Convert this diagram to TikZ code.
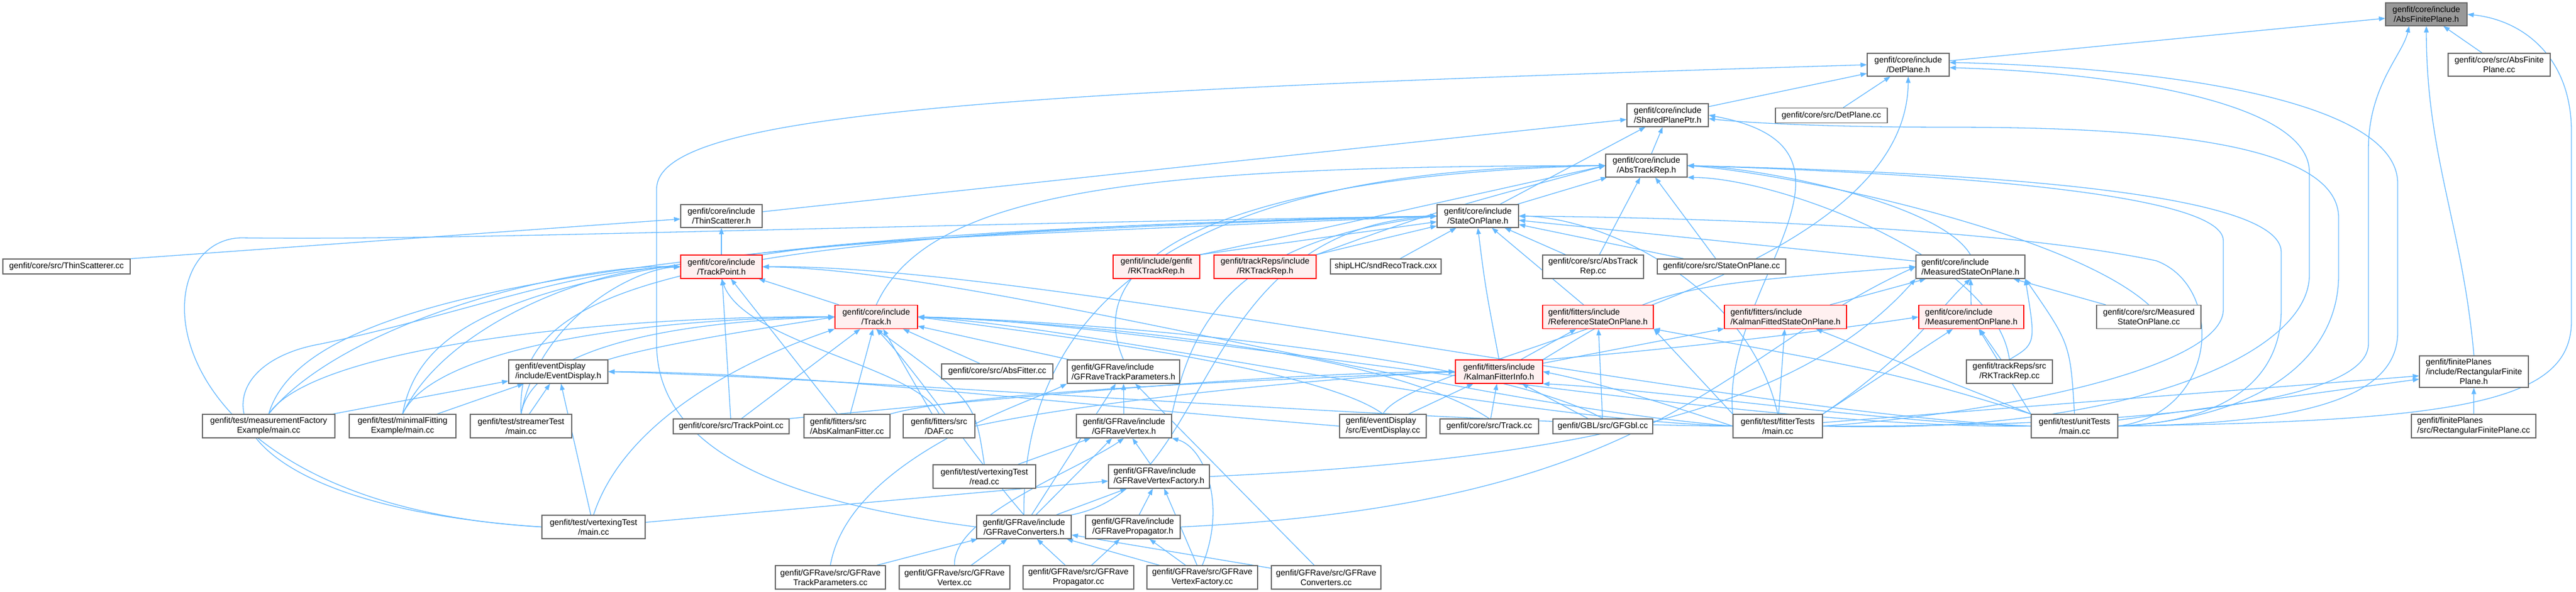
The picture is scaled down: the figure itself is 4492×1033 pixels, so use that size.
\documentclass[tikz,border=0pt]{standalone}
\usepackage{fontspec}
\setmainfont{Liberation Sans}
\usetikzlibrary{arrows.meta,backgrounds}

\definecolor{edgeblue}{HTML}{63B8FF}
\definecolor{boxgray}{HTML}{666666}
\definecolor{rootgray}{HTML}{999999}
\definecolor{truncfill}{HTML}{FFF0F0}

\tikzset{
  file/.style={draw=boxgray, fill=white, line width=1.2pt, inner sep=0pt,
    align=center, minimum height=41pt, font=\fontsize{14.5}{17}\selectfont},
  trunc/.style={file, draw=red, fill=truncfill},
  root/.style={file, fill=rootgray},
  dep/.style={draw=edgeblue, line width=1.3pt, -{Triangle[length=11pt,width=8pt]}}
}

\begin{document}
\begin{tikzpicture}[x=1pt,y=-1pt]
  \useasboundingbox (0,0) rectangle (4492,1033);

  \node[root, minimum width=142pt, minimum height=40pt] (absfp) at (4231,25) {genfit/core/include\\/AbsFinitePlane.h};
  \node[file, minimum width=143pt, minimum height=40pt] (detplane) at (3327.5,113) {genfit/core/include\\/DetPlane.h};
  \node[file, minimum width=178pt, minimum height=40pt] (absfpcc) at (4358,113) {genfit/core/src/AbsFinite\\Plane.cc};
  \node[file, minimum width=142pt, minimum height=40pt] (sharedpp) at (2908,201) {genfit/core/include\\/SharedPlanePtr.h};
  \node[file, minimum width=195pt, minimum height=26pt] (detplanecc) at (3193.5,201.5) {genfit/core/src/DetPlane.cc};
  \node[file, minimum width=142pt, minimum height=40pt] (abstrackrep) at (2871,289) {genfit/core/include\\/AbsTrackRep.h};
  \node[file, minimum width=142pt, minimum height=40pt] (thinsch) at (1258,377) {genfit/core/include\\/ThinScatterer.h};
  \node[file, minimum width=142pt, minimum height=40pt] (sop) at (2577,377) {genfit/core/include\\/StateOnPlane.h};

  \node[file, minimum width=222pt, minimum height=26pt] (thinscc) at (116,465) {genfit/core/src/ThinScatterer.cc};
  \node[trunc, minimum width=142pt] (trackpoint) at (1258,465.5) {genfit/core/include\\/TrackPoint.h};
  \node[trunc, minimum width=151pt] (rkgenfit) at (2016.5,465.5) {genfit/include/genfit\\/RKTrackRep.h};
  \node[trunc, minimum width=178pt] (rktrackreps) at (2206,465.5) {genfit/trackReps/include\\/RKTrackRep.h};
  \node[file, minimum width=193pt, minimum height=26pt] (sndreco) at (2416.5,465) {shipLHC/sndRecoTrack.cxx};
  \node[file, minimum width=176pt] (abstrackrepcc) at (2778,465.5) {genfit/core/src/AbsTrack\\Rep.cc};
  \node[file, minimum width=224pt, minimum height=26pt] (sopcc) at (3002,465) {genfit/core/src/StateOnPlane.cc};
  \node[file, minimum width=190pt, align=left] (msop) at (3436,465.5) {genfit/core/include\\/MeasuredStateOnPlane.h};

  \node[trunc, minimum width=144pt] (track) at (1528,553) {genfit/core/include\\/Track.h};
  \node[trunc, minimum width=193pt, align=left] (refsop) at (2786.5,553) {genfit/fitters/include\\/ReferenceStateOnPlane.h};
  \node[trunc, minimum width=213pt, align=left] (kfsop) at (3113.5,553) {genfit/fitters/include\\/KalmanFittedStateOnPlane.h};
  \node[trunc, minimum width=183pt, align=left] (mop) at (3437.5,553) {genfit/core/include\\/MeasurementOnPlane.h};
  \node[file, minimum width=182pt] (msopcc) at (3747,553) {genfit/core/src/Measured\\StateOnPlane.cc};

  \node[file, minimum width=173pt, align=left] (eventdisplayh) at (973.5,648.5) {genfit/eventDisplay\\/include/EventDisplay.h};
  \node[file, minimum width=194pt, minimum height=26pt] (absfittercc) at (1739,648) {genfit/core/src/AbsFitter.cc};
  \node[file, minimum width=196pt, align=left] (gfravetph) at (1959,648.5) {genfit/GFRave/include\\/GFRaveTrackParameters.h};
  \node[trunc, minimum width=152pt] (kfinfo) at (2614,648.5) {genfit/fitters/include\\/KalmanFitterInfo.h};
  \node[file, minimum width=150pt] (rkcc) at (3504,648.5) {genfit/trackReps/src\\/RKTrackRep.cc};
  \node[file, minimum width=190pt, minimum height=55pt, align=left] (rectfph) at (4314,648.5) {genfit/finitePlanes\\/include/RectangularFinite\\\hspace*{59pt}Plane.h};

  \node[file, minimum width=231pt] (mfexample) at (468.5,743.5) {genfit/test/measurementFactory\\Example/main.cc};
  \node[file, minimum width=186pt] (minfit) at (702,743.5) {genfit/test/minimalFitting\\Example/main.cc};
  \node[file, minimum width=177pt] (streamer) at (908.5,743.5) {genfit/test/streamerTest\\/main.cc};
  \node[file, minimum width=202pt, minimum height=26pt] (trackpointcc) at (1275,744) {genfit/core/src/TrackPoint.cc};
  \node[file, minimum width=150pt, align=left] (abskfcc) at (1477,743.5) {genfit/fitters/src\\/AbsKalmanFitter.cc};
  \node[file, minimum width=125pt] (dafcc) at (1637.5,743.5) {genfit/fitters/src\\/DAF.cc};
  \node[file, minimum width=166pt] (gfravevertexh) at (1960,743.5) {genfit/GFRave/include\\/GFRaveVertex.h};
  \node[file, minimum width=151pt, align=left] (eventdisplaycc) at (2411.5,743.5) {genfit/eventDisplay\\/src/EventDisplay.cc};
  \node[file, minimum width=172pt, minimum height=26pt] (trackcc) at (2597,744) {genfit/core/src/Track.cc};
  \node[file, minimum width=174pt, minimum height=26pt] (gfgblcc) at (2795,744) {genfit/GBL/src/GFGbl.cc};
  \node[file, minimum width=156pt] (fittertests) at (3100,743.5) {genfit/test/fitterTests\\/main.cc};
  \node[file, minimum width=151pt] (unittests) at (3617.5,743.5) {genfit/test/unitTests\\/main.cc};
  \node[file, minimum width=217pt, align=left] (rectfpcc) at (4313.5,743.5) {genfit/finitePlanes\\/src/RectangularFinitePlane.cc};

  \node[file, minimum width=179pt] (readcc) at (1716.5,831.5) {genfit/test/vertexingTest\\/read.cc};
  \node[file, minimum width=176pt, align=left] (gfravevfh) at (2021,831.5) {genfit/GFRave/include\\/GFRaveVertexFactory.h};
  \node[file, minimum width=180pt] (vtxmain) at (1035,919.5) {genfit/test/vertexingTest\\/main.cc};
  \node[file, minimum width=165pt] (gfraveconvh) at (1785.5,919.5) {genfit/GFRave/include\\/GFRaveConverters.h};
  \node[file, minimum width=165pt] (gfravepropagator) at (1975.5,919.5) {genfit/GFRave/include\\/GFRavePropagator.h};

  \node[file, minimum width=192pt] (gfravetpcc) at (1448,1007.5) {genfit/GFRave/src/GFRave\\TrackParameters.cc};
  \node[file, minimum width=193pt] (gfravevcc) at (1664.5,1007.5) {genfit/GFRave/src/GFRave\\Vertex.cc};
  \node[file, minimum width=193pt] (gfravepcc) at (1880.5,1007.5) {genfit/GFRave/src/GFRave\\Propagator.cc};
  \node[file, minimum width=193pt] (gfravevfcc) at (2096.5,1007.5) {genfit/GFRave/src/GFRave\\VertexFactory.cc};
  \node[file, minimum width=191pt] (gfravecc) at (2312.5,1007.5) {genfit/GFRave/src/GFRave\\Converters.cc};

  \begin{pgfonlayer}{background}
    \fill[white] (0,0) rectangle (4492,1033);

    \draw[dep] (detplane) -- (absfp);
    \draw[dep] (absfpcc) -- (absfp);
    \draw[dep] (rectfph.north) to[out=95,in=-90] (absfp.south);
    \draw[dep] (fittertests.east) .. controls (3600,745) and (4130,720) .. (4130,600) -- (4130,260) .. controls (4130,150) and (4190,95) .. ([xshift=-30pt]absfp.south);
    \draw[dep] (unittests.east) .. controls (4300,735) and (4484,700) .. (4484,560) -- (4484,230) .. controls (4484,100) and (4400,35) .. (absfp.east);

    \draw[dep] (sharedpp) -- (detplane);
    \draw[dep] (detplanecc) -- (detplane);
    \draw[dep] (gfraveconvh.west) .. controls (1400,880) and (1145,800) .. (1145,600) -- (1145,330) .. controls (1145,200) and (1700,160) .. (detplane.west);
    \draw[dep] (eventdisplaycc.north) .. controls (2470,620) and (3325,500) .. (detplane.south);
    \draw[dep] (unittests.east) .. controls (4000,740) and (4181,700) .. (4181,580) -- (4181,320) .. controls (4181,170) and (3750,117) .. ([yshift=4pt]detplane.east);
    \draw[dep] (fittertests.east) .. controls (3700,760) and (4027,620) .. (4027,480) -- (4027,300) .. controls (4027,180) and (3700,127) .. ([yshift=-5pt]detplane.east);

    \draw[dep] (thinsch) -- (sharedpp);
    \draw[dep] (abstrackrep) -- (sharedpp);
    \draw[dep] (sop) -- (sharedpp);
    \draw[dep] (fittertests.north west) .. controls (3000,500) and (3300,260) .. (sharedpp.east);
    \draw[dep] (unittests.east) .. controls (3950,730) and (4078,620) .. (4078,480) -- (4078,380) .. controls (4078,240) and (3700,222) .. (3400,222) .. controls (3200,222) and (3050,215) .. ([yshift=-6pt]sharedpp.east);

    \draw[dep] (sop) -- (abstrackrep);
    \draw[dep] (abstrackrepcc) -- (abstrackrep);
    \draw[dep] (sopcc) -- (abstrackrep);
    \draw[dep] (rkgenfit.north east) .. controls (2300,400) .. (abstrackrep.west);
    \draw[dep] (rktrackreps.north east) .. controls (2500,370) .. (abstrackrep.west);
    \draw[dep] (track.north) .. controls (1620,330) and (2000,290) .. (abstrackrep.west);
    \draw[dep] (gfravetph.north) .. controls (1860,400) and (2300,300) .. (abstrackrep.west);
    \draw[dep] (gfraveconvh.north) .. controls (1780,400) and (2300,290) .. (abstrackrep.west);
    \draw[dep] (msop.north) .. controls (3380,350) and (3050,290) .. (abstrackrep.east);
    \draw[dep] (msopcc.north) .. controls (3600,400) and (3100,300) .. (abstrackrep.east);
    \draw[dep] (fittertests.east) .. controls (3500,720) and (3877,640) .. (3877,540) -- (3877,420) .. controls (3877,330) and (3300,300) .. (abstrackrep.east);
    \draw[dep] (unittests.east) .. controls (3900,735) and (3978,650) .. (3978,540) -- (3978,440) .. controls (3978,330) and (3400,300) .. (abstrackrep.east);
    \draw[dep] (rkcc.north) .. controls (3480,450) and (3100,310) .. (abstrackrep.south east);

    \draw[dep] (msop) -- (sop);
    \draw[dep] (refsop) -- (sop);
    \draw[dep] (kfinfo.north) .. controls (2590,500) .. (sop.south);
    \draw[dep] (rkgenfit.north east) -- (sop);
    \draw[dep] (rktrackreps.north east) -- (sop);
    \draw[dep] (sndreco) -- (sop);
    \draw[dep] (abstrackrepcc) -- (sop);
    \draw[dep] (sopcc) -- (sop);
    \draw[dep] (mfexample.north) .. controls (520,550) and (900,420) .. (sop.west);
    \draw[dep] (minfit.north) .. controls (740,520) and (1000,410) .. (sop.west);
    \draw[dep] (streamer.north) .. controls (900,520) and (1100,405) .. (sop.west);
    \draw[dep] (trackpoint.north east) .. controls (1500,420) .. (sop.west);
    \draw[dep] (vtxmain.west) .. controls (250,880) and (240,420) .. (420,415) .. controls (800,420) and (1400,395) .. (sop.west);
    \draw[dep] (gfraveconvh.north east) .. controls (2120,850) and (2080,400) .. (sop.west);
    \draw[dep] (gfravevertexh.north east) .. controls (2080,560) and (2150,420) .. (sop.west);
    \draw[dep] (fittertests.north) .. controls (3050,500) and (2800,380) .. (sop.east);
    \draw[dep] (unittests.east) .. controls (3870,720) and (3880,500) .. (3760,455) .. controls (3500,400) and (3000,380) .. (sop.east);

    \draw[dep] (kfsop) -- (msop);
    \draw[dep] (mop) -- (msop);
    \draw[dep] (msopcc) -- (msop);
    \draw[dep] (kfinfo.north east) .. controls (2900,500) .. (msop.west);
    \draw[dep] (rkcc.north) .. controls (3550,600) .. (msop.south east);
    \draw[dep] (unittests.north) .. controls (3610,600) .. (msop.south east);
    \draw[dep] (fittertests.north east) .. controls (3330,620) and (3380,540) .. (msop.south);
    \draw[dep] (gfravepropagator.east) .. controls (2900,880) and (3000,620) .. (msop.west);
    \draw[dep] (gfravevfh.east) .. controls (2800,800) and (3150,700) .. (msop.south west);

    \draw[dep] (kfinfo.north east) .. controls (2800,620) and (3100,590) .. (mop.west);
    \draw[dep] (rkcc) -- (mop);
    \draw[dep] (fittertests.north east) -- (mop);
    \draw[dep] (unittests.north west) -- (mop);

    \draw[dep] (kfinfo) -- (kfsop);
    \draw[dep] (fittertests) -- (kfsop);
    \draw[dep] (unittests.north west) -- (kfsop);

    \draw[dep] (kfinfo) -- (refsop);
    \draw[dep] (gfgblcc) -- (refsop);
    \draw[dep] (fittertests.north west) -- (refsop.south east);
    \draw[dep] (unittests.north west) .. controls (3300,650) .. (refsop.south east);

    \draw[dep] (eventdisplaycc) -- (kfinfo);
    \draw[dep] (trackcc) -- (kfinfo);
    \draw[dep] (gfgblcc) -- (kfinfo);
    \draw[dep] (abskfcc.north east) .. controls (1700,680) and (2300,660) .. (kfinfo.west);
    \draw[dep] (dafcc.east) .. controls (1900,700) and (2300,660) .. (kfinfo.west);
    \draw[dep] (trackpointcc.north east) .. controls (1700,700) and (2200,650) .. (kfinfo.west);
    \draw[dep] (fittertests.west) .. controls (2950,720) and (2800,670) .. (kfinfo.east);
    \draw[dep] (unittests.west) .. controls (3300,740) and (2900,680) .. (kfinfo.south east);

    \draw[dep] (gfravetph) -- (track);
    \draw[dep] (abskfcc) -- (track);
    \draw[dep] (dafcc) -- (track);
    \draw[dep] (absfittercc) -- (track);
    \draw[dep] (trackpointcc) -- (track);
    \draw[dep] (eventdisplayh.north east) .. controls (1150,600) and (1350,570) .. (track.west);
    \draw[dep] (mfexample.north) .. controls (550,600) and (1100,550) .. (track.west);
    \draw[dep] (minfit.north) .. controls (760,600) and (1150,555) .. (track.west);
    \draw[dep] (streamer.north) .. controls (930,600) and (1200,560) .. (track.west);
    \draw[dep] (vtxmain.north) .. controls (1100,700) and (1380,600) .. (track.south west);
    \draw[dep] (gfraveconvh.north) .. controls (1700,800) and (1600,650) .. (track.south);
    \draw[dep] (readcc.north) .. controls (1700,700) .. (track.south);
    \draw[dep] (eventdisplaycc.north) .. controls (2300,640) and (1800,580) .. (track.east);
    \draw[dep] (trackcc.north) .. controls (2400,600) and (1800,560) .. (track.east);
    \draw[dep] (gfgblcc.north) .. controls (2600,620) and (1900,560) .. (track.east);
    \draw[dep] (fittertests.west) .. controls (2600,730) and (1900,570) .. (track.east);
    \draw[dep] (unittests.west) .. controls (3000,750) and (2000,560) .. (track.east);

    \draw[dep] (track) -- (trackpoint);
    \draw[dep] (trackpointcc) -- (trackpoint);
    \draw[dep] (abskfcc) -- (trackpoint);
    \draw[dep] (dafcc.north) .. controls (1600,640) and (1300,600) .. (trackpoint.south);
    \draw[dep] (mfexample.north) .. controls (600,560) and (1000,460) .. (trackpoint.west);
    \draw[dep] (minfit.north) .. controls (780,560) and (1050,465) .. (trackpoint.west);
    \draw[dep] (streamer.north) .. controls (940,560) and (1100,470) .. (trackpoint.west);
    \draw[dep] (vtxmain.west) .. controls (350,880) and (330,640) .. (560,600) .. controls (800,550) and (1000,470) .. (trackpoint.west);
    \draw[dep] (fittertests.west) .. controls (2500,700) and (1700,470) .. (trackpoint.east);
    \draw[dep] (unittests.west) .. controls (3000,720) and (1800,460) .. (trackpoint.east);

    \draw[dep] (trackpoint) -- (thinsch);
    \draw[dep] (thinscc.north east) -- (thinsch);

    \draw[dep] (mfexample) -- (eventdisplayh);
    \draw[dep] (minfit) -- (eventdisplayh);
    \draw[dep] (streamer) -- (eventdisplayh);
    \draw[dep] (vtxmain) -- (eventdisplayh);
    \draw[dep] (eventdisplaycc.west) .. controls (1800,700) and (1400,650) .. (eventdisplayh.east);
    \draw[dep] (fittertests.west) .. controls (2500,740) and (1500,660) .. (eventdisplayh.east);

    \draw[dep] (gfravevertexh) -- (gfravetph);
    \draw[dep] (gfraveconvh) -- (gfravetph);
    \draw[dep] (gfravetpcc.north) .. controls (1480,800) and (1800,700) .. (gfravetph.south west);
    \draw[dep] (gfravecc) -- (gfravetph);

    \draw[dep] (readcc) -- (gfravevertexh);
    \draw[dep] (gfraveconvh) -- (gfravevertexh);
    \draw[dep] (gfravevfh) -- (gfravevertexh);
    \draw[dep] (gfravevcc.north) .. controls (1660,900) and (1880,820) .. (gfravevertexh.south);
    \draw[dep] (gfravevfcc.north) .. controls (2140,880) and (2100,780) .. (gfravevertexh.south east);

    \draw[dep] (vtxmain) -- (gfravevfh);
    \draw[dep] (gfraveconvh) -- (gfravevfh);
    \draw[dep] (gfravepropagator) -- (gfravevfh);
    \draw[dep] (gfravevfcc) -- (gfravevfh);

    \draw[dep] (gfravetpcc) -- (gfraveconvh);
    \draw[dep] (gfravevcc) -- (gfraveconvh);
    \draw[dep] (gfravepcc) -- (gfraveconvh);
    \draw[dep] (gfravevfcc) -- (gfraveconvh);
    \draw[dep] (gfravecc) -- (gfraveconvh);

    \draw[dep] (gfravepcc) -- (gfravepropagator);
    \draw[dep] (gfravevfcc) -- (gfravepropagator);

    \draw[dep] (rectfpcc) -- (rectfph);
    \draw[dep] (fittertests) -- (rectfph);
    \draw[dep] (unittests) -- (rectfph);
  \end{pgfonlayer}
\end{tikzpicture}
\end{document}
